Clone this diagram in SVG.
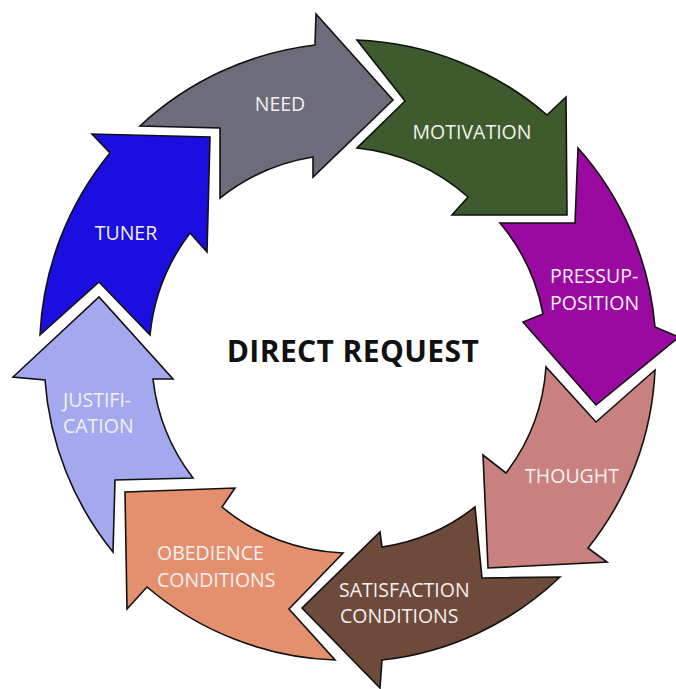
<svg xmlns="http://www.w3.org/2000/svg" width="676" height="689" viewBox="0 0 676 689">
<style>
.arrow{stroke:#111;stroke-width:1.6;stroke-linejoin:miter}
.lbl{font-family:"Open Sans","Noto Sans","Liberation Sans",sans-serif;font-size:19.5px;fill:#f4f0f0}
.mid{text-anchor:middle}
.title{font-family:"Open Sans","Noto Sans","Liberation Sans",sans-serif;font-size:30px;font-weight:bold;fill:#111;text-anchor:middle;letter-spacing:0.4px}
</style>
<rect width="676" height="689" fill="#ffffff"/>
<g id="connectors"></g>
<g id="need">
<path class="arrow" fill="#6c6c7a" d="M140,126 A310,310 0 0 1 315,45 L316,14 L393,100 L313,177 L313,157 A200,200 0 0 0 220,198 L220,128 Z"/>
<text class="lbl mid" x="280" y="111">NEED</text>
</g>
<g id="motivation">
<path class="arrow" fill="#3d5b2d" d="M357,40 A310,310 0 0 1 547,115 L566,97 L567,215 L452,215 L468,197 A200,200 0 0 0 357,148 L405,101 Z"/>
<text class="lbl mid" x="472" y="139">MOTIVATION</text>
</g>
<g id="presupposition">
<path class="arrow" fill="#9a0aa0" d="M578,148 A308,308 0 0 1 655,327 L679,337 L596,405 L523,322 L543,314 A198,198 0 0 0 500,223 L575,223 Z"/>
<text class="lbl" x="550" y="283">PRESSUP-</text>
<text class="lbl" x="550" y="310">POSITION</text>
</g>
<g id="thought">
<path class="arrow" fill="#c8817f" d="M655,370 A306,306 0 0 1 588,548 L607,562 L488,568 L483,455 L506,473 A196,196 0 0 0 546,367 L596,422 Z"/>
<text class="lbl mid" x="572" y="483">THOUGHT</text>
</g>
<g id="satisfaction">
<path class="arrow" fill="#6d4a3a" d="M560,577 A306,306 0 0 1 382,660 L380,688 L302,608 L380,532 L382,547 A196,196 0 0 0 475,507 L482,578 Z"/>
<text class="lbl" x="339" y="597">SATISFACTION</text>
<text class="lbl" x="340" y="623">CONDITIONS</text>
</g>
<g id="obedience">
<path class="arrow" fill="#e4906f" d="M335,660 A308,308 0 0 1 147,587 L127,609 L125,492 L235,488 L222,507 A199,199 0 0 0 343,553 L289,609 Z"/>
<text class="lbl" x="157" y="560">OBEDIENCE</text>
<text class="lbl" x="157" y="587">CONDITIONS</text>
</g>
<g id="justification">
<path class="arrow" fill="#a4a8ee" d="M113,552 A308,308 0 0 1 45,380 L13,377 L99,297 L173,379 L153,379 A199,199 0 0 0 193,478 L115,480 Z"/>
<text class="lbl" x="63" y="407">JUSTIFI-</text>
<text class="lbl" x="63" y="433">CATION</text>
</g>
<g id="tuner">
<path class="arrow" fill="#1a0fe0" d="M40,335 A310,310 0 0 1 110,153 L92,134 L210,137 L207,252 L190,233 A201,201 0 0 0 150,335 L99,282 Z"/>
<text class="lbl mid" x="126" y="240">TUNER</text>
</g>
<g id="center">
<text class="title" x="353" y="362">DIRECT REQUEST</text>
</g>
</svg>
